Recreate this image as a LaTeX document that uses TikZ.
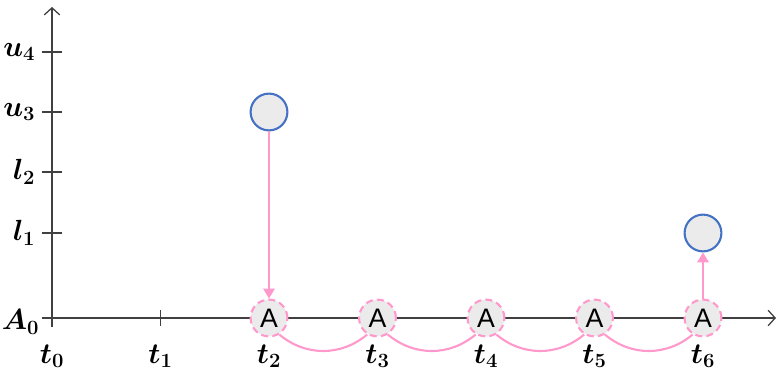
\documentclass[tikz,border=0pt]{standalone}
\usepackage{amsmath}
\usepackage{fontspec}
\newfontfamily\nodefont{Liberation Sans}
\usetikzlibrary{arrows.meta, positioning}
\definecolor{hoppink}{HTML}{FF99CC}
\definecolor{ringblue}{HTML}{4472C4}
\definecolor{cellgray}{HTML}{EBEBEB}
\definecolor{axisgray}{HTML}{404040}
\tikzset{
  axisline/.style={
    draw=axisgray, line width=0.9pt,
    -{Straight Barb[length=5pt, width=11pt]}
  },
  axtick/.style={draw=axisgray, line width=0.9pt},
  axlabel/.style={font=\huge\boldmath, inner sep=1pt},
  anode/.style={
    circle, draw=hoppink, dash pattern=on 5pt off 3pt,
    line width=1.5pt, fill=cellgray,
    minimum size=0.92cm, inner sep=0pt,
    font=\nodefont\fontsize{19}{19}\selectfont
  },
  lnode/.style={
    circle, draw=ringblue, line width=1.5pt, fill=cellgray,
    minimum size=0.92cm, inner sep=0pt
  },
  move/.style={draw=hoppink, line width=1.5pt, -{Triangle[length=7pt, width=8pt]}},
  hop/.style={draw=hoppink, line width=1.5pt}
}

\begin{document}
\begin{tikzpicture}[x=0.025cm, y=0.025cm]

\useasboundingbox (-52,-58) rectangle (724,318);

%% ── Axes ─────────────────────────────────────────────────────
\coordinate (xstart) at (-10,0);
\coordinate (xend)   at (724,0);
\coordinate (ystart) at (0,-9);
\coordinate (yend)   at (0,311);
\draw[axisline] (xstart) -- (xend);
\draw[axisline] (ystart) -- (yend);

%% ── Level ticks ──────────────────────────────────────────────
\foreach \name/\y/\txt in {u4/266/u_4, u3/206/u_3, l2/146/l_2, l1/85/l_1} {
  \draw[axtick] (-10,\y) -- (10,\y);
  \node[axlabel, anchor=east] (lab\name) at (-15,\y) {$\txt$};
}
\node[axlabel, anchor=east] (labA) at (-11,-4) {$A_0$};

%% ── Time ticks ───────────────────────────────────────────────
\foreach \i in {0,...,6} {
  \draw[axtick] ({108.5*\i},-8) -- ({108.5*\i},8);
  \node[axlabel] (t\i) at ({108.5*\i},-38) {$t_\i$};
}

%% ── Nodes ────────────────────────────────────────────────────
\foreach \i in {2,...,6}
  \node[anode] (a\i) at ({108.5*\i},0) {A};

\node[lnode] (upper) at (217,206) {};
\node[lnode] (lower) at (651,85) {};

%% ── Moves ────────────────────────────────────────────────────
\draw[move] (upper) -- (a2);
\draw[move] (a6) -- (lower);

\foreach \i/\j in {2/3, 3/4, 4/5, 5/6}
  \draw[hop] (a\i.-58) to[bend right=40] (a\j.-122);

\end{tikzpicture}
\end{document}
